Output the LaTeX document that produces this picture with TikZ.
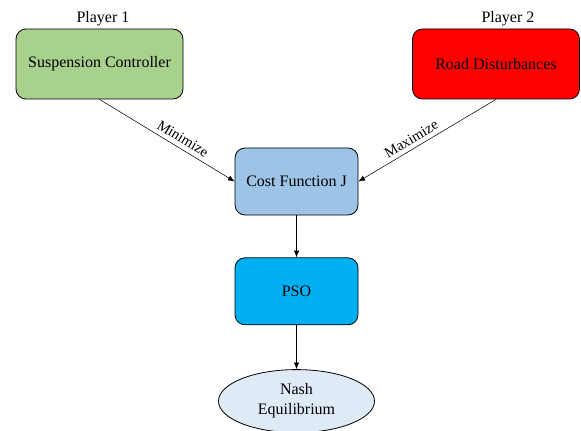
\documentclass[tikz,border=0pt]{standalone}
\usepackage{fontspec}
\setmainfont{Liberation Serif}
\usetikzlibrary{arrows.meta,positioning,shapes.geometric}
\definecolor{ctrlgreen}{HTML}{A9D18E}
\definecolor{roadred}{HTML}{FF0000}
\definecolor{costblue}{HTML}{9DC3E6}
\definecolor{psoblue}{HTML}{00B0F0}
\definecolor{nashblue}{HTML}{DEEBF7}

\begin{document}
\begin{tikzpicture}[x=0.75pt,y=-0.75pt,>={Latex[length=5pt,width=4pt]}, every node/.style={font=\fontsize{12}{15}\selectfont}]
\tikzstyle{blk}=[draw, rounded corners=7.5pt, minimum width=92.25pt, minimum height=50.25pt, align=center, line width=0.6pt]
\tikzstyle{player}=[blk, minimum width=125.25pt, minimum height=52.5pt]
\useasboundingbox (0,0) rectangle (581,431);
\node[player,fill=ctrlgreen] (ctrl) at (99.5,64) {Suspension Controller};
\node[player,fill=roadred,right=171.5pt of ctrl] (road) {Road Disturbances};
\node[above=-1.5pt of ctrl,xshift=2.6pt] (p1) {Player 1};
\node[above=-1.5pt of road,xshift=9pt] (p2) {Player 2};
\node[blk,fill=costblue] (cost) at (296.5,181.5) {Cost Function J};
\node[blk,fill=psoblue,below=31.5pt of cost] (pso) {PSO};
\node[draw,ellipse,line width=0.6pt,fill=nashblue,minimum width=117pt,minimum height=47.25pt,align=center,below=33pt of pso] (nash) {Nash\\Equilibrium};
\draw[->] (ctrl.south) -- node[pos=0.58,sloped,above,font=\fontsize{11}{13}\selectfont]{Minimize} (cost.west);
\draw[->] (road.south) -- node[pos=0.58,sloped,above,font=\fontsize{11}{13}\selectfont]{Maximize} (cost.east);
\draw[->] (cost)--(pso);
\draw[->] (pso)--(nash);
\end{tikzpicture}
\end{document}
